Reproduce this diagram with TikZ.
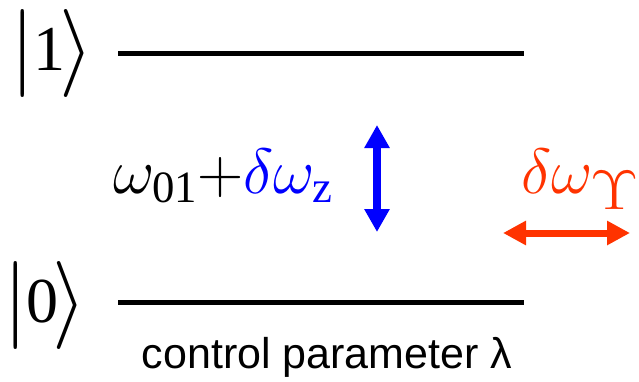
\RequirePackage{fix-cm}
\documentclass[tikz,border=0pt]{standalone}
\usepackage{amsmath}
\usepackage{fontspec}
\setmainfont{Liberation Serif}
\newfontfamily\labelfont{Liberation Sans}
\usetikzlibrary{arrows.meta,positioning}
\definecolor{zblue}{RGB}{0,0,255}
\definecolor{gred}{RGB}{255,51,0}
\newcommand{\ketof}[1]{$|$\kern-1pt\raisebox{5pt}{\fontsize{64}{70}\selectfont #1}\kern-6pt$\rangle$}
\tikzset{
  level/.style={line width=5pt},
  ketnode/.style={inner sep=0pt,anchor=base west,font=\fontsize{88}{92}\selectfont},
  every picture/.style={line cap=butt,line join=miter}
}

\begin{document}
\begin{tikzpicture}[x=1pt,y=-1pt,
  dbl/.style={line width=7.5pt,{Triangle[length=23pt,width=24pt]}-{Triangle[length=23pt,width=24pt]}}]
  \useasboundingbox (0,0) rectangle (639,381);
  % levels
  \coordinate (l1a) at (118,53.5);
  \coordinate (l1b) at (524,53.5);
  \coordinate (l0a) at (118,302.5);
  \coordinate (l0b) at (524,302.5);
  \draw[level] (l1a) -- (l1b);
  \draw[level] (l0a) -- (l0b);
  \node[ketnode] (k1) at (10,75) {\ketof{1}};
  \node[ketnode] (k0) at (3,327) {\ketof{0}};
  % splitting
  \node[anchor=base west,inner sep=0pt,font=\fontsize{64}{68}\selectfont] (w01) at (113,193)
    {$\omega_{\text{01}}{+}\color{zblue}\delta\omega_{\text{z}}$};
  \coordinate (bt) at (377,125);
  \coordinate (bb) at (377,232);
  \draw[dbl,zblue] (bt) -- (bb);
  % linewidth
  \node[anchor=base west,inner sep=0pt,font=\fontsize{64}{68}\selectfont,text=gred] (dwg) at (521,193)
    {$\delta\omega_{\raisebox{-7pt}{\scalebox{1.5}[1.25]{$\scriptstyle\Upsilon$}}}$};
  \coordinate (rl) at (503,233);
  \coordinate (rr) at (630,233);
  \draw[dbl,gred,line width=7pt,{Triangle[length=23pt,width=23pt]}-{Triangle[length=23pt,width=23pt]}] (rl) -- (rr);
  \node[anchor=base,inner sep=0pt,font=\labelfont\fontsize{43}{46}\selectfont] (ctl) at (327,368)
    {control parameter λ};
\end{tikzpicture}
\end{document}
